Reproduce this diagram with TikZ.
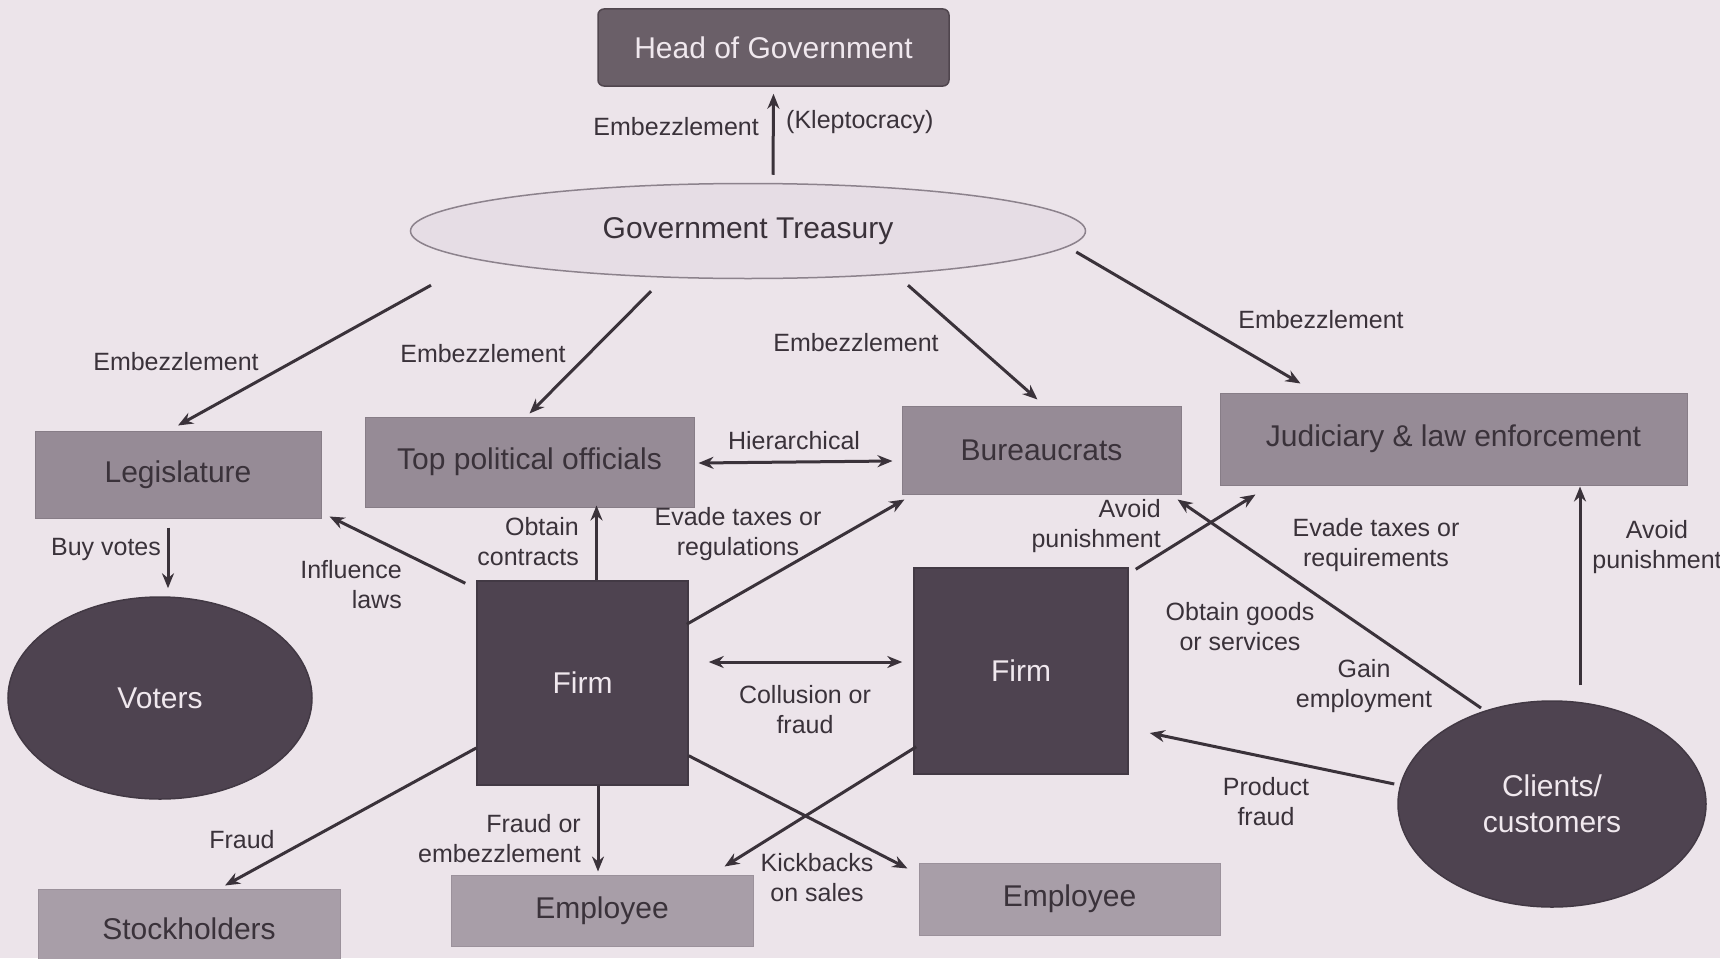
\documentclass[tikz,border=0pt]{standalone}
\usepackage{fontspec}
\setmainfont{Liberation Sans}
\usetikzlibrary{shapes.geometric,arrows.meta,calc}
\definecolor{bg}{RGB}{236,228,234}
\definecolor{headfill}{RGB}{106,95,104}
\definecolor{headline}{RGB}{80,70,78}
\definecolor{midfill}{RGB}{150,139,150}
\definecolor{lowfill}{RGB}{168,158,168}
\definecolor{darkfill}{RGB}{78,67,80}
\definecolor{ellfill}{RGB}{230,221,229}
\definecolor{ellline}{RGB}{140,130,140}
\definecolor{txt}{RGB}{58,50,58}
\definecolor{lighttxt}{RGB}{240,232,238}
\definecolor{arr}{RGB}{58,50,58}
\begin{document}
\begin{tikzpicture}[x=1pt,y=-1pt,
  bigfont/.style={font=\fontsize{30}{36}\selectfont},
  headbox/.style={rectangle, rounded corners=6pt, fill=headfill, draw=headline, line width=1.5pt, text=lighttxt, bigfont, inner sep=0pt},
  midbox/.style={rectangle, fill=midfill, draw=midfill!90!black, line width=1pt, text=txt, bigfont, inner sep=0pt},
  lowbox/.style={rectangle, fill=lowfill, draw=lowfill!92!black, line width=1pt, text=txt, bigfont, inner sep=0pt},
  darkbox/.style={rectangle, fill=darkfill, draw=darkfill!85!black, line width=1.5pt, text=lighttxt, bigfont, inner sep=0pt},
  darkell/.style={ellipse, fill=darkfill, draw=darkfill!85!black, line width=1.5pt, text=lighttxt, bigfont, inner sep=0pt, align=center},
  lab/.style={font=\fontsize{25}{30}\selectfont, text=txt, inner sep=0pt},
  conn/.style={draw=arr, line width=3pt, -{Stealth[length=15pt,width=12pt]}},
  bconn/.style={draw=arr, line width=3pt, {Stealth[length=15pt,width=12pt]}-{Stealth[length=15pt,width=12pt]}}
]
\fill[bg] (0,0) rectangle (1720,958);
\useasboundingbox (0,0) rectangle (1720,958);

% nodes
\node[headbox, minimum width=351pt, minimum height=77pt] (head) at (773.5,47.5) {Head of Government};
\node[ellipse, fill=ellfill, draw=ellline, line width=1.5pt, text=txt, bigfont, inner sep=0pt, minimum width=675pt, minimum height=95pt] (trs) at (748,231) {Government Treasury};
\node[midbox, minimum width=286pt, minimum height=87pt] (leg) at (178,474.5) {Legislature};
\node[midbox, minimum width=329pt, minimum height=90pt] (top) at (529.5,462) {Top political officials};
\node[midbox, minimum width=279pt, minimum height=88pt] (bur) at (1041.5,450) {Bureaucrats};
\node[midbox, minimum width=467pt, minimum height=92pt] (jud) at (1453.5,439) {Judiciary \& law enforcement};
\node[darkell, minimum width=304pt, minimum height=202pt] (vot) at (160,698) {Voters};
\node[darkbox, minimum width=211pt, minimum height=204pt] (fa) at (582.5,683) {Firm};
\node[darkbox, minimum width=214pt, minimum height=206pt] (fb) at (1021,671) {Firm};
\node[darkell, minimum width=308pt, minimum height=206pt] (cli) at (1552,804) {Clients/\\customers};
\node[lowbox, minimum width=302pt, minimum height=80pt] (stk) at (189,929) {Stockholders};
\node[lowbox, minimum width=302pt, minimum height=71pt] (ea) at (602,910.5) {Employee};
\node[lowbox, minimum width=301pt, minimum height=72pt] (eb) at (1069.5,899) {Employee};

% connectors
\draw[conn] ($(trs.north)+(25,-8)$) -- ($(head.south)+(0,7)$);
\draw[conn] ($(trs.south)+(-317,6)$) -- ($(leg.north)+(0,-5)$);
\draw[conn] ($(trs.south)+(-97,12)$) -- ($(top.north)+(0,-3)$);
\draw[conn] ($(trs.south)+(160,6)$) -- ($(bur.north)+(-4,-6)$);
\draw[conn] ($(trs.east)+(-10,21)$) -- ($(jud.north)+(-153,-9)$);
\draw[bconn] ($(top.east)+(4,1)$) -- ($(bur.west)+(-9,11)$);
\draw[conn] ($(leg.south)+(-10,9)$) -- ($(vot.north)+(8,-8)$);
\draw[conn] ($(fa.north west)+(-11,3)$) -- ($(leg.south east)+(8,-2)$);
\draw[conn] ($(fa.north)+(14,0)$) -- ($(top.south)+(67,-2)$);
\draw[conn] ($(fa.north east)+(-2,44)$) -- ($(bur.south west)+(3,5)$);
\draw[bconn] ($(fa.east)+(20,-21)$) -- ($(fb.west)+(-11,-9)$);
\draw[conn] ($(fa.west)+(0,65)$) -- ($(stk.north)+(36,-3)$);
\draw[conn] ($(fa.south)+(15.5,0)$) -- ($(ea.north)+(-4,-3)$);
\draw[conn] ($(fa.south east)+(0,-30)$) -- ($(eb.north west)+(-11,6)$);
\draw[conn] ($(fb.south west)+(3,-28)$) -- ($(ea.north east)+(-29,-8)$);
\draw[conn] ($(fb.north east)+(7,2)$) -- ($(jud.south west)+(36,9)$);
\draw[conn] ($(cli.center)+(-71,-96)$) -- ($(bur.south east)+(-4,5)$);
\draw[conn] ($(cli.west)+(-3,-20)$) -- ($(fb.east)+(21,62)$);
\draw[conn] ($(cli.north)+(28,-15)$) -- ($(jud.south)+(126.5,1)$);

% labels
\node[lab, anchor=east] (l1) at (759,127) {Embezzlement};
\node[lab, anchor=west] (l2) at (786,122) {(Kleptocracy)};
\node[lab] (l3) at (176,362) {Embezzlement};
\node[lab] (l4) at (483,354) {Embezzlement};
\node[lab] (l5) at (856,343) {Embezzlement};
\node[lab] (l6) at (1321,320) {Embezzlement};
\node[lab] (l7) at (794,441) {Hierarchical};
\node[lab] (l8) at (106,549) {Buy votes};
\node[lab, anchor=east, align=right] (l9) at (402,585) {Influence\\laws};
\node[lab, anchor=east, align=right] (l10) at (579,542) {Obtain\\contracts};
\node[lab, align=center] (l11) at (738,534) {Evade taxes or\\regulations};
\node[lab, align=center] (l12) at (805,710) {Collusion or\\fraud};
\node[lab] (l13) at (242,840) {Fraud};
\node[lab, anchor=east, align=right] (l14) at (581,839) {Fraud or\\embezzlement};
\node[lab, align=center] (l15) at (817,878) {Kickbacks\\on sales};
\node[lab, anchor=east, align=right] (l16) at (1161,526) {Avoid\\punishment};
\node[lab, align=center] (l17) at (1376,545) {Evade taxes or\\requirements};
\node[lab, align=center] (l18) at (1240,627) {Obtain goods\\or services};
\node[lab, align=center] (l19) at (1364,686) {Gain\\employment};
\node[lab, align=center] (l20) at (1266,802) {Product\\fraud};
\node[lab, align=center] (l21) at (1657,547) {Avoid\\punishment};
\end{tikzpicture}
\end{document}
